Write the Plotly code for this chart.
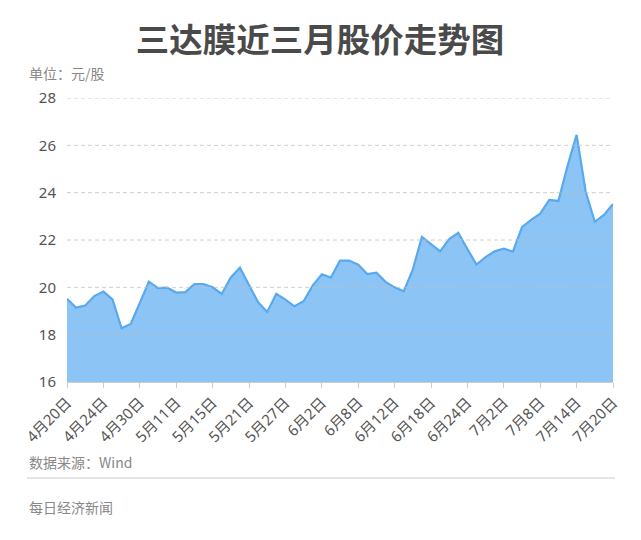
import plotly.graph_objects as go

dates = ["4月20日","4月21日","4月22日","4月23日","4月24日","4月27日","4月28日","4月29日","4月30日",
         "5月6日","5月7日","5月8日","5月11日","5月12日","5月13日","5月14日","5月15日","5月18日","5月19日","5月20日",
         "5月21日","5月22日","5月25日","5月26日","5月27日","5月28日","5月29日",
         "6月1日","6月2日","6月3日","6月4日","6月5日","6月8日","6月9日","6月10日","6月11日","6月12日",
         "6月15日","6月16日","6月17日","6月18日","6月19日","6月22日","6月23日","6月24日","6月29日","6月30日",
         "7月1日","7月2日","7月3日","7月6日","7月7日","7月8日","7月9日","7月10日","7月13日","7月14日",
         "7月15日","7月16日","7月17日","7月20日"]
prices = [19.52, 19.14, 19.23, 19.63, 19.82, 19.49, 18.27, 18.45, 19.34,
          20.24, 19.97, 19.99, 19.78, 19.80, 20.14, 20.14, 20.00, 19.72, 20.42, 20.83,
          20.10, 19.37, 18.96, 19.73, 19.48, 19.20, 19.41,
          20.07, 20.55, 20.41, 21.13, 21.13, 20.96, 20.56, 20.62, 20.23, 20.00,
          19.83, 20.75, 22.13, 21.83, 21.52, 22.04, 22.30, 21.62, 20.96, 21.28,
          21.52, 21.63, 21.51, 22.54, 22.85, 23.11, 23.69, 23.65, 25.12, 26.44,
          24.04, 22.77, 23.06, 23.52]
tick_idx = list(range(0, 61, 4))
tick_labels = [dates[i] for i in tick_idx]
y_ticks = [16, 18, 20, 22, 24, 26, 28]

FONT = "Noto Sans, Noto Sans CJK SC, sans-serif"
OFF = 8  # page body margin offset

# target page pixel positions of plot area
L, R, T, B = 67, 613, 98, 382

fig = go.Figure()
fig.add_trace(go.Scatter(
    x=list(range(len(prices))), y=prices, mode="lines",
    line=dict(color="#58A9EF", width=2.2),
    fill="tozeroy", fillcolor="#8CC5F5",
    hoverinfo="skip",
))

fig.update_layout(
    width=641, height=540,
    margin=dict(l=L - OFF, r=641 - (R - OFF), t=T - OFF, b=540 - (B - OFF)),
    paper_bgcolor="white", plot_bgcolor="white",
    showlegend=False,
    font=dict(family=FONT, color="#555555"),
    title=dict(text="<b>三达膜近三月股价走势图</b>", x=(320 - OFF) / 641, xanchor="center",
               y=1 - (40 - OFF) / 540, yanchor="middle", yref="container",
               font=dict(size=33.5, color="#4a4a4a", family="Noto Sans CJK SC")),
    xaxis=dict(range=[0, 60], tickmode="array", tickvals=tick_idx, ticktext=tick_labels,
               tickangle=-45, showgrid=False, showline=True, linecolor="#cccccc", linewidth=1,
               ticks="outside", ticklen=5, tickcolor="#cccccc",
               tickfont=dict(size=15, color="#555555", family=FONT), zeroline=False,
               layer="above traces"),
    yaxis=dict(range=[16, 28], tickvals=y_ticks, showgrid=False, showline=False, zeroline=False,
               tickfont=dict(size=15, color="#555555", family=FONT), ticks="", ticklabelstandoff=10),
)

for v in y_ticks[1:]:
    fig.add_shape(type="line", xref="paper", yref="y", x0=0, x1=1, y0=v, y1=v,
                  line=dict(color="rgba(190,190,190,0.75)", width=1, dash="4px,3px"), layer="above")

W = R - L
H = B - T


def py(p):
    return (B - p) / H


def px(p):
    return (p - L) / W


fig.add_annotation(text="单位：元/股", xref="paper", yref="paper", x=px(27), y=py(73),
                   xanchor="left", yanchor="middle", showarrow=False,
                   font=dict(size=14, color="#888888", family="Noto Sans CJK SC"))
fig.add_annotation(text="数据来源：Wind", xref="paper", yref="paper", x=px(27), y=py(462),
                   xanchor="left", yanchor="middle", showarrow=False,
                   font=dict(size=14, color="#888888", family="Noto Sans CJK SC"))
fig.add_annotation(text="每日经济新闻", xref="paper", yref="paper", x=px(27), y=py(507),
                   xanchor="left", yanchor="middle", showarrow=False,
                   font=dict(size=14, color="#888888", family="Noto Sans CJK SC"))
fig.add_shape(type="line", xref="paper", yref="paper", x0=px(27), x1=px(615), y0=py(478), y1=py(478),
              line=dict(color="#dddddd", width=1.5))

fig.write_html("out.html")
